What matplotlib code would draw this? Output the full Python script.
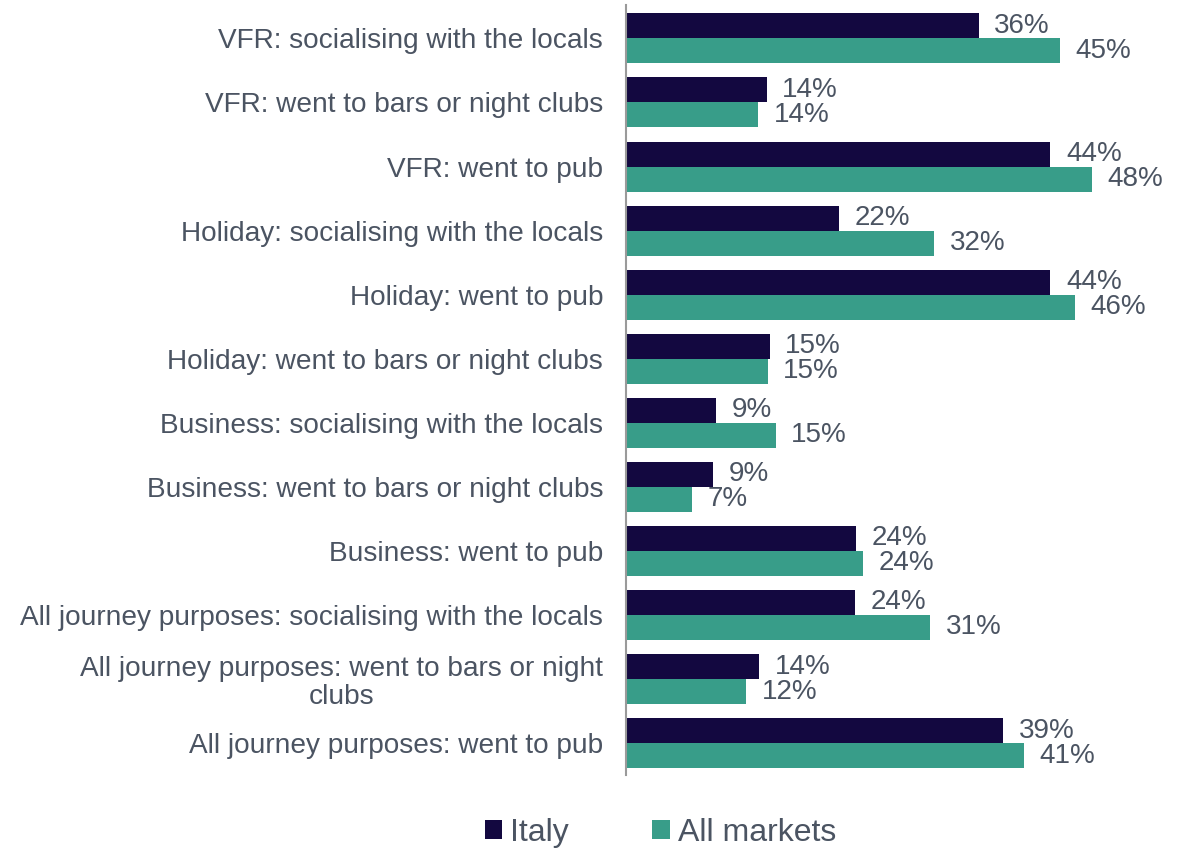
import numpy as np
import matplotlib.pyplot as plt

plt.rcParams['font.family'] = ['Liberation Sans', 'DejaVu Sans']

categories = [
    "VFR: socialising with the locals",
    "VFR: went to bars or night clubs",
    "VFR: went to pub",
    "Holiday: socialising with the locals",
    "Holiday: went to pub",
    "Holiday: went to bars or night clubs",
    "Business: socialising with the locals",
    "Business: went to bars or night clubs",
    "Business: went to pub",
    "All journey purposes: socialising with the locals",
    "All journey purposes: went to bars or night\nclubs",
    "All journey purposes: went to pub",
]
italy = [36.3, 14.5, 43.7, 21.9, 43.7, 14.8, 9.3, 9.0, 23.7, 23.6, 13.7, 38.8]
all_markets = [44.7, 13.6, 48.0, 31.7, 46.2, 14.6, 15.4, 6.8, 24.4, 31.3, 12.4, 41.0]

c_italy = "#130840"
c_all = "#389d89"
txt = "#4b5462"

fig = plt.figure(figsize=(11.9, 8.49), dpi=100)
ax = fig.add_axes([0.526, 0.087, 0.449, 0.907])

y = np.arange(len(categories))
h = 0.39
b1 = ax.barh(y - h / 2, italy, height=h, color=c_italy, label="Italy")
b2 = ax.barh(y + h / 2, all_markets, height=h, color=c_all, label="All markets")

for bars, vals in ((b1, italy), (b2, all_markets)):
    for r, v in zip(bars, vals):
        ax.text(r.get_width() + 1.6, r.get_y() + r.get_height() / 2, f"{round(v):.0f}%",
                va="center", ha="left", fontsize=20, color=txt)

ax.set_xlim(0, 55)
ax.set_ylim(11.5, -0.52)
ax.set_yticks(y)
ax.set_yticklabels(categories, fontsize=20.2, color=txt)
for lab in ax.get_yticklabels():
    lab.set_multialignment("center")
    lab.set_linespacing(1.08)
ax.tick_params(axis="y", length=0, pad=16.5)
ax.set_xticks([])
for s in ("top", "right", "bottom"):
    ax.spines[s].set_visible(False)
ax.spines["left"].set_color("#9a9a9a")
ax.spines["left"].set_linewidth(1.5)

fig.legend(handles=[b1, b2], loc="center", bbox_to_anchor=(0.555, 0.019), ncol=2,
           frameon=False, fontsize=23, handlelength=0.55, handleheight=0.55,
           columnspacing=2.6, handletextpad=0.25, labelcolor=txt)

fig.savefig("out.png", dpi=100)
